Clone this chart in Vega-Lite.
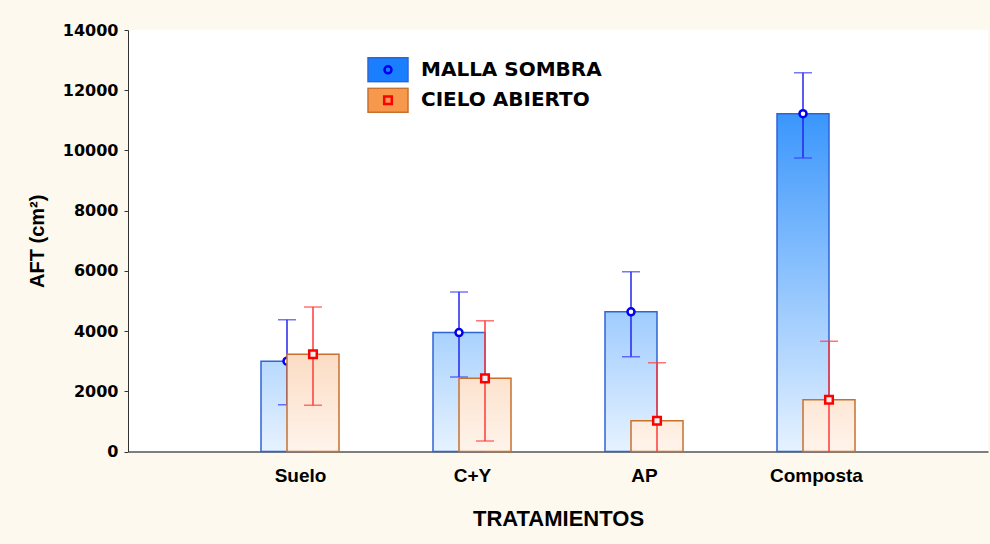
{
  "$schema": "https://vega.github.io/schema/vega-lite/v6.json",
  "autosize": {"type": "none"},
  "width": 860,
  "height": 421.5,
  "padding": {"left": 128, "top": 30, "right": 2, "bottom": 92.5},
  "background": "#fdf9ee",
  "config": {"view": {"stroke": null, "fill": "white"}},
  "data": {"values": [
    {"trat": "Suelo", "serie": "MALLA SOMBRA", "media": 3000, "inf": 1550, "sup": 4380},
    {"trat": "C+Y", "serie": "MALLA SOMBRA", "media": 3950, "inf": 2475, "sup": 5300},
    {"trat": "AP", "serie": "MALLA SOMBRA", "media": 4640, "inf": 3150, "sup": 5970},
    {"trat": "Composta", "serie": "MALLA SOMBRA", "media": 11220, "inf": 9750, "sup": 12580},
    {"trat": "Suelo", "serie": "CIELO ABIERTO", "media": 3230, "inf": 1535, "sup": 4800},
    {"trat": "C+Y", "serie": "CIELO ABIERTO", "media": 2430, "inf": 350, "sup": 4345},
    {"trat": "AP", "serie": "CIELO ABIERTO", "media": 1020, "inf": -910, "sup": 2950},
    {"trat": "Composta", "serie": "CIELO ABIERTO", "media": 1720, "inf": -220, "sup": 3660}
  ]},
  "encoding": {
    "x": {
      "field": "trat", "type": "nominal",
      "scale": {"type": "point", "domain": ["_0", "Suelo", "C+Y", "AP", "Composta", "_5"], "padding": 0},
      "axis": {
        "values": ["Suelo", "C+Y", "AP", "Composta"],
        "title": "TRATAMIENTOS",
        "labelAngle": 0,
        "ticks": false,
        "domainColor": "#555555", "domainWidth": 1.5,
        "labelFont": "Liberation Sans", "labelFontSize": 19, "labelFontWeight": "bold", "labelColor": "#000000",
        "labelBaseline": "alphabetic", "labelPadding": 30,
        "titleFont": "Liberation Sans", "titleFontSize": 22, "titleFontWeight": "bold", "titleColor": "#000000",
        "titleBaseline": "alphabetic", "titleX": 430, "titleY": 74
      }
    }
  },
  "layer": [
    {
      "transform": [{"filter": "datum.serie === 'MALLA SOMBRA'"}],
      "mark": {"type": "bar", "width": 52, "xOffset": -13, "strokeWidth": 1.5},
      "encoding": {
        "y": {
          "field": "media", "type": "quantitative",
          "scale": {"domain": [0, 14000], "nice": false},
          "axis": {
            "title": "AFT (cm²)",
            "values": [0, 2000, 4000, 6000, 8000, 10000, 12000, 14000],
            "format": "d",
            "grid": false, "tickSize": 4, "tickColor": "#333333", "domainColor": "#333333",
            "labelFont": "DejaVu Sans", "labelFontSize": 16, "labelFontWeight": "bold", "labelColor": "#000000", "labelPadding": 6,
            "titleFont": "Liberation Sans", "titleFontSize": 20, "titleFontWeight": "bold", "titleColor": "#000000",
            "titleBaseline": "alphabetic", "titleX": -85, "titleY": 210.75, "titleAngle": 270
          }
        },
        "stroke": {
          "field": "serie", "type": "nominal",
          "scale": {"domain": ["MALLA SOMBRA", "CIELO ABIERTO"], "range": ["#2f64d6", "#c8702e"]},
          "legend": {
            "title": null, "orient": "none", "legendX": 239, "legendY": 26.8, "padding": 0, "zindex": 1,
            "symbolType": "M-1,-0.6H1V0.6H-1Z", "symbolSize": 1600, "symbolStrokeWidth": 1.5, "symbolOpacity": 1,
            "clipHeight": 26, "rowPadding": 4.4, "labelOffset": 12, "labelLimit": 400,
            "labelFont": "DejaVu Sans", "labelFontSize": 20, "labelFontWeight": "bold", "labelColor": "#000000"
          }
        },
        "fill": {
          "field": "serie", "type": "nominal",
          "scale": {"domain": ["MALLA SOMBRA", "CIELO ABIERTO"], "range": ["#1a7fff", "#f7994d"]},
          "condition": [
            {"test": "datum.trat === 'Suelo'", "value": {"gradient": "linear", "x1": 0, "y1": 0, "x2": 0, "y2": 1, "stops": [{"offset": 0, "color": "#b8d9fe"}, {"offset": 1, "color": "#e6f2ff"}]}},
            {"test": "datum.trat === 'C+Y'", "value": {"gradient": "linear", "x1": 0, "y1": 0, "x2": 0, "y2": 1, "stops": [{"offset": 0, "color": "#a9d2fe"}, {"offset": 1, "color": "#e6f2ff"}]}},
            {"test": "datum.trat === 'AP'", "value": {"gradient": "linear", "x1": 0, "y1": 0, "x2": 0, "y2": 1, "stops": [{"offset": 0, "color": "#9fccfe"}, {"offset": 1, "color": "#e6f2ff"}]}},
            {"test": "datum.trat === 'Composta'", "value": {"gradient": "linear", "x1": 0, "y1": 0, "x2": 0, "y2": 1, "stops": [{"offset": 0, "color": "#3a96fc"}, {"offset": 1, "color": "#e6f2ff"}]}}
          ],
          "legend": {
            "title": null, "orient": "none", "legendX": 239, "legendY": 26.8, "padding": 0, "zindex": 1,
            "symbolType": "M-1,-0.6H1V0.6H-1Z", "symbolSize": 1600, "symbolStrokeWidth": 1.5, "symbolOpacity": 1,
            "clipHeight": 26, "rowPadding": 4.4, "labelOffset": 12, "labelLimit": 400,
            "labelFont": "DejaVu Sans", "labelFontSize": 20, "labelFontWeight": "bold", "labelColor": "#000000"
          }
        }
      }
    },
    {
      "transform": [{"filter": "datum.serie === 'MALLA SOMBRA'"}],
      "mark": {"type": "rule", "xOffset": -13, "color": "#2424ee", "strokeWidth": 1.5, "clip": true},
      "encoding": {
        "y": {"field": "inf", "type": "quantitative", "title": "AFT (cm²)"},
        "y2": {"field": "sup"}
      }
    },
    {
      "transform": [{"filter": "datum.serie === 'MALLA SOMBRA'"}],
      "mark": {"type": "tick", "xOffset": -13, "color": "#3a3aff", "size": 18, "thickness": 1.5, "clip": true},
      "encoding": {"y": {"field": "sup", "type": "quantitative", "title": "AFT (cm²)"}}
    },
    {
      "transform": [{"filter": "datum.serie === 'MALLA SOMBRA'"}],
      "mark": {"type": "tick", "xOffset": -13, "color": "#3a3aff", "size": 18, "thickness": 1.5, "clip": true},
      "encoding": {"y": {"field": "inf", "type": "quantitative", "title": "AFT (cm²)"}}
    },
    {
      "transform": [{"filter": "datum.serie === 'MALLA SOMBRA'"}],
      "mark": {"type": "point", "xOffset": -13, "shape": "circle", "filled": true, "fill": "white", "strokeWidth": 0, "opacity": 1, "size": 38},
      "encoding": {"y": {"field": "media", "type": "quantitative", "title": "AFT (cm²)"}}
    },
    {
      "transform": [{"filter": "datum.serie === 'MALLA SOMBRA'"}],
      "mark": {"type": "point", "xOffset": -13, "filled": false, "strokeWidth": 2.5, "opacity": 1, "size": 1600},
      "encoding": {
        "y": {"field": "media", "type": "quantitative", "title": "AFT (cm²)"},
        "color": {
          "field": "serie", "type": "nominal", "sort": "descending",
          "scale": {"range": ["#0000ee", "#ff0000"]},
          "legend": {
            "title": null, "orient": "none", "legendX": 238.5, "legendY": 26.8, "padding": 0, "zindex": 2,
            "symbolSize": 1600, "symbolStrokeWidth": 2.5, "symbolOpacity": 1, "symbolFillColor": "transparent",
            "clipHeight": 26, "rowPadding": 4.4, "labelOffset": 11, "labelLimit": 400, "labelExpr": "''",
            "labelFont": "DejaVu Sans", "labelFontSize": 20, "labelFontWeight": "bold", "labelColor": "#000000"
          }
        },
        "shape": {
          "field": "serie", "type": "nominal", "sort": "descending",
          "scale": {"range": [
            "M-1,-0.6M1,0.6M-0.175,0A0.175,0.175,0,1,0,0.175,0A0.175,0.175,0,1,0,-0.175,0Z",
            "M-1,-0.6M1,0.6M-0.19,-0.19H0.19V0.19H-0.19Z"
          ]},
          "legend": {
            "title": null, "orient": "none", "legendX": 238.5, "legendY": 26.8, "padding": 0, "zindex": 2,
            "symbolSize": 1600, "symbolStrokeWidth": 2.5, "symbolOpacity": 1, "symbolFillColor": "transparent",
            "clipHeight": 26, "rowPadding": 4.4, "labelOffset": 11, "labelLimit": 400, "labelExpr": "''",
            "labelFont": "DejaVu Sans", "labelFontSize": 20, "labelFontWeight": "bold", "labelColor": "#000000"
          }
        }
      }
    },
    {
      "transform": [{"filter": "datum.serie === 'CIELO ABIERTO'"}],
      "mark": {"type": "bar", "width": 52, "xOffset": 13, "strokeWidth": 1.5},
      "encoding": {
        "y": {"field": "media", "type": "quantitative", "title": "AFT (cm²)"},
        "stroke": {"field": "serie", "type": "nominal"},
        "fill": {
          "field": "serie", "type": "nominal",
          "condition": [
            {"test": "datum.trat === 'Suelo'", "value": {"gradient": "linear", "x1": 0, "y1": 0, "x2": 0, "y2": 1, "stops": [{"offset": 0, "color": "#fbdcc4"}, {"offset": 1, "color": "#fff4eb"}]}},
            {"test": "datum.trat === 'C+Y'", "value": {"gradient": "linear", "x1": 0, "y1": 0, "x2": 0, "y2": 1, "stops": [{"offset": 0, "color": "#fce2ce"}, {"offset": 1, "color": "#fff4eb"}]}},
            {"test": "datum.trat === 'AP'", "value": {"gradient": "linear", "x1": 0, "y1": 0, "x2": 0, "y2": 1, "stops": [{"offset": 0, "color": "#feecde"}, {"offset": 1, "color": "#fff4eb"}]}},
            {"test": "datum.trat === 'Composta'", "value": {"gradient": "linear", "x1": 0, "y1": 0, "x2": 0, "y2": 1, "stops": [{"offset": 0, "color": "#fde7d6"}, {"offset": 1, "color": "#fff4eb"}]}}
          ]
        }
      }
    },
    {
      "transform": [{"filter": "datum.serie === 'CIELO ABIERTO'"}],
      "mark": {"type": "rule", "xOffset": 13, "color": "#ff3a3a", "strokeWidth": 1.5, "clip": true},
      "encoding": {
        "y": {"field": "inf", "type": "quantitative", "title": "AFT (cm²)"},
        "y2": {"field": "sup"}
      }
    },
    {
      "transform": [{"filter": "datum.serie === 'CIELO ABIERTO'"}],
      "mark": {"type": "tick", "xOffset": 13, "color": "#ff3a3a", "size": 18, "thickness": 1.5, "clip": true},
      "encoding": {"y": {"field": "sup", "type": "quantitative", "title": "AFT (cm²)"}}
    },
    {
      "transform": [{"filter": "datum.serie === 'CIELO ABIERTO'"}],
      "mark": {"type": "tick", "xOffset": 13, "color": "#ff3a3a", "size": 18, "thickness": 1.5, "clip": true},
      "encoding": {"y": {"field": "inf", "type": "quantitative", "title": "AFT (cm²)"}}
    },
    {
      "transform": [{"filter": "datum.serie === 'CIELO ABIERTO'"}],
      "mark": {"type": "point", "xOffset": 13, "shape": "square", "filled": true, "fill": "#f4f0f0", "strokeWidth": 0, "opacity": 1, "size": 56},
      "encoding": {"y": {"field": "media", "type": "quantitative", "title": "AFT (cm²)"}}
    },
    {
      "transform": [{"filter": "datum.serie === 'CIELO ABIERTO'"}],
      "mark": {"type": "point", "xOffset": 13, "filled": false, "strokeWidth": 2.5, "opacity": 1, "size": 1600},
      "encoding": {
        "y": {"field": "media", "type": "quantitative", "title": "AFT (cm²)"},
        "color": {"field": "serie", "type": "nominal", "sort": "descending"},
        "shape": {"field": "serie", "type": "nominal", "sort": "descending"}
      }
    }
  ]
}
